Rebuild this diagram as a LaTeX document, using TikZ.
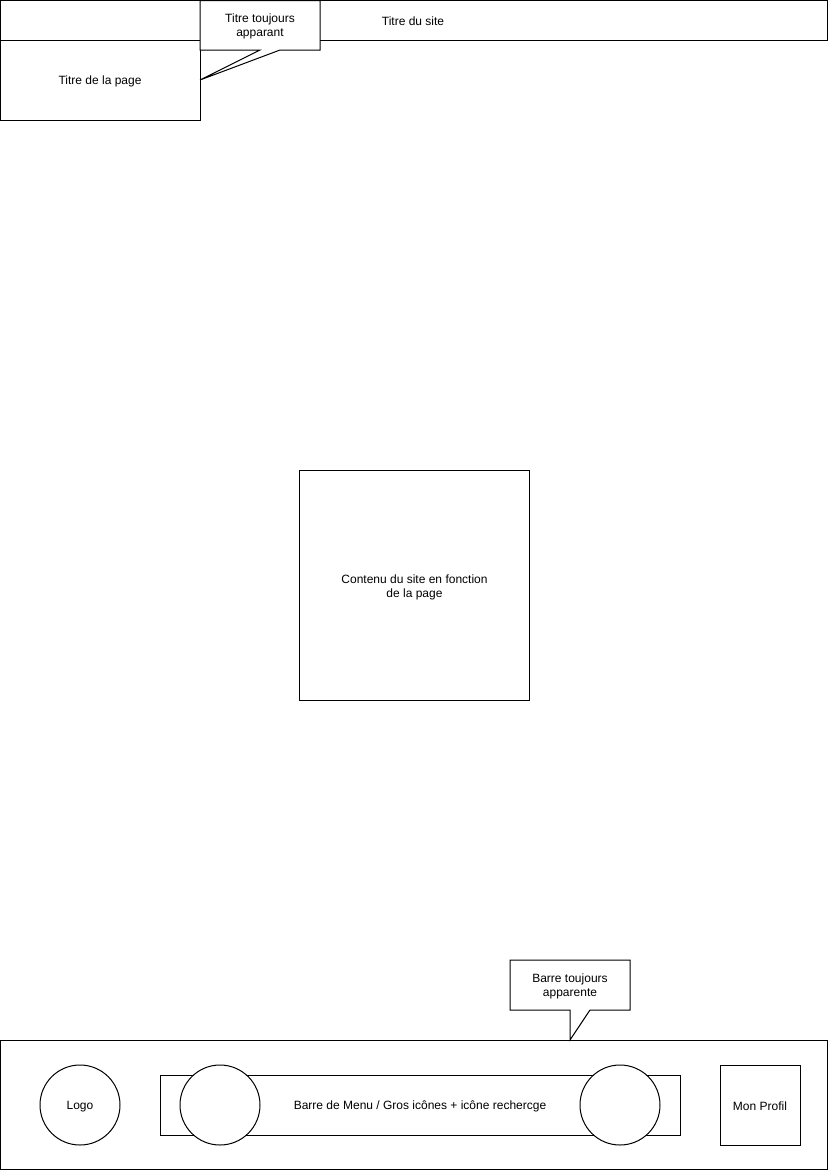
\documentclass[tikz,border=0pt]{standalone}
\usepackage{fontspec}
\setmainfont{Liberation Sans}
\begin{document}
\begin{tikzpicture}[x=1pt,y=-1pt,line width=1pt,
  every node/.style={font=\fontsize{12}{14}\selectfont,align=center,inner sep=0pt},
  lbl/.style={yshift=-1.5pt},
  box/.style={draw=black,fill=white},
  roundel/.style={draw=black,fill=white,circle,minimum size=80pt}]
\useasboundingbox (0,0) rectangle (828,1170);
% top
\draw[box] (0.5,0.5) rectangle (827.5,40);
\node[lbl] (site) at (413,20) {Titre du site};
\draw[box] (0.5,40) rectangle (200,120);
\node[lbl] (page) at (100,80) {Titre de la page};
\coordinate (tip1) at (200,80);
\draw[fill=white] (200,0.5) -- (320,0.5) -- (320,50) -- (280,50) -- (tip1) -- (260,50) -- (200,50) -- cycle;
\node[lbl] (call1) at (260,25) {Titre toujours\\apparant};
% content
\draw[box] (299.5,470.5) rectangle (529.5,700.5);
\node[lbl] (content) at (414.5,585.5) {Contenu du site en fonction\\de la page};
% bottom
\draw[box] (0.5,1040) rectangle (827.5,1169.5);
\coordinate (tip2) at (570,1040);
\draw[fill=white] (510,960) -- (630,960) -- (630,1010) -- (590,1010) -- (tip2) -- (570,1010) -- (510,1010) -- cycle;
\node[lbl] (call2) at (570,985) {Barre toujours\\apparente};
\node[roundel] (logo) at (80,1105) {};
\node[lbl] (logotext) at (logo) {Logo};
\draw[box] (160,1075) rectangle (680,1135);
\node[roundel] (c1) at (220,1105) {};
\node[roundel] (c2) at (620,1105) {};
\node[lbl] (menu) at (420,1105) {Barre de Menu / Gros icônes + icône rechercge};
\node[draw=black,fill=white,minimum size=80pt] (profil) at (760,1105) {};
\node[lbl] (profiltext) at (profil) {Mon Profil};
\end{tikzpicture}
\end{document}
